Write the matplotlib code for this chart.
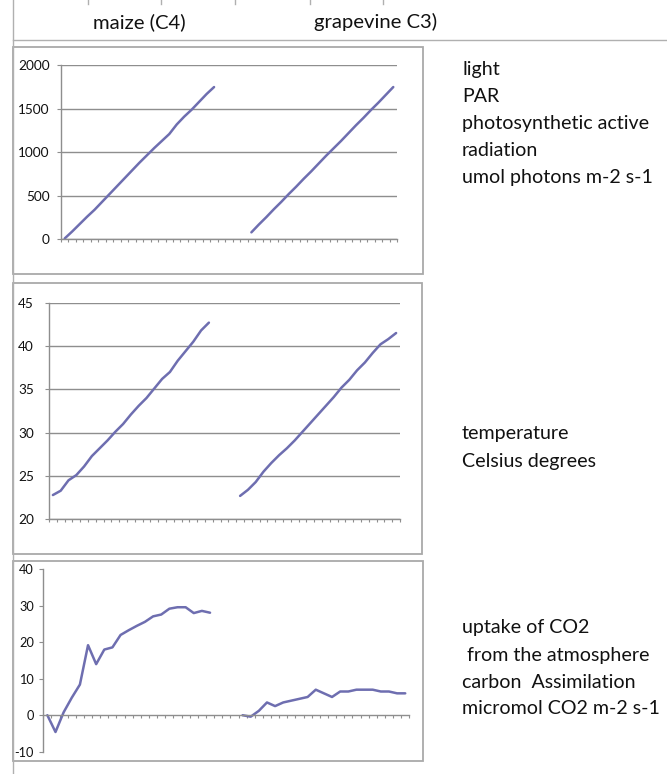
import numpy as np
import matplotlib
matplotlib.use("Agg")
import matplotlib.pyplot as plt
from matplotlib.patches import Rectangle
from matplotlib.lines import Line2D

# ---------------- data ----------------
n_cat = 45
maize_par_idx0 = 0
grape_par_idx0 = 25
maize_par = [10, 90, 175, 260, 340, 430, 520, 610, 700, 790, 880, 965, 1050,
             1130, 1210, 1320, 1410, 1490, 1580, 1670, 1750]
grape_par = [80, 170, 255, 345, 430, 520, 605, 695, 780, 870, 960, 1045, 1130,
             1220, 1310, 1395, 1485, 1570, 1660, 1750]

maize_temp_idx0 = 0
grape_temp_idx0 = 24
maize_temp = [22.8, 23.3, 24.5, 25.1, 26.1, 27.3, 28.2, 29.1, 30.1, 31.0, 32.1,
              33.1, 34.0, 35.1, 36.2, 37.0, 38.3, 39.4, 40.5, 41.8, 42.7]
grape_temp = [22.7, 23.4, 24.3, 25.5, 26.5, 27.4, 28.2, 29.1, 30.1, 31.1, 32.1,
              33.1, 34.1, 35.2, 36.1, 37.2, 38.1, 39.2, 40.2, 40.8, 41.5]

maize_co2_idx0 = 0
grape_co2_idx0 = 24
maize_co2 = [0, -4.6, 0.8, 4.8, 8.4, 19.2, 14.0, 18.0, 18.6, 22.0, 23.3, 24.5,
             25.6, 27.1, 27.6, 29.2, 29.6, 29.6, 28.0, 28.6, 28.1]
grape_co2 = [0, -0.4, 1.2, 3.5, 2.5, 3.5, 4.0, 4.5, 5.0, 7.0, 6.0, 5.0, 6.5,
             6.5, 7.0, 7.0, 7.0, 6.5, 6.5, 6.0, 6.0]

col_headers = ["maize (C4)", "grapevine C3)"]
par_ticks = [0, 500, 1000, 1500, 2000]
temp_ticks = [20, 25, 30, 35, 40, 45]
co2_ticks = [-10, 0, 10, 20, 30, 40]
label_par = ["light", "PAR", "photosynthetic active", "radiation",
             "umol photons m-2 s-1"]
label_temp = ["temperature", "Celsius degrees"]
label_co2 = ["uptake of CO2", " from the atmosphere", "carbon  Assimilation",
             "micromol CO2 m-2 s-1"]

# ---------------- style ----------------
W, H = 667, 774
plt.rcParams['font.family'] = ['Lato', 'DejaVu Sans']
LINE = '#6e6eb0'
GRID = '#8e8e8e'
BOX = '#a9a9a9'
TXT = '#111111'
BIG = 14.6
SIDE = 14.1

fig = plt.figure(figsize=(W / 100, H / 100), dpi=100)
fig.patch.set_facecolor('white')


def rect(l, t, r, b):
    return [l / W, 1 - b / H, (r - l) / W, (b - t) / H]


def fline(x0, y0, x1, y1, **kw):
    fig.add_artist(Line2D([x0 / W, x1 / W], [1 - y0 / H, 1 - y1 / H],
                          transform=fig.transFigure, **kw))


def fbox(l, t, r, b):
    fig.add_artist(Rectangle((l / W, 1 - b / H), (r - l) / W, (b - t) / H,
                             transform=fig.transFigure, fill=False,
                             ec=BOX, lw=1.3))


# spreadsheet frame
fline(12.5, 0, 12.5, H, color='#b0b0b0', lw=1.0)
fline(12.5, 40, W, 40, color='#b0b0b0', lw=1.0)
for xx in [88, 161, 235, 310, 383]:
    fline(xx, 0, xx, 4, color='#b0b0b0', lw=1.0)

fig.text(139 / W, 1 - 22 / H, col_headers[0], ha='center', va='center',
         fontsize=BIG, color=TXT)
fig.text(376 / W, 1 - 22 / H, col_headers[1], ha='center', va='center',
         fontsize=BIG, color=TXT)

fbox(13.3, 46.7, 422.7, 274)
fbox(13.3, 282.7, 421.7, 554)
fbox(13.3, 560.7, 423, 761)


def plot_series(ax, idx0, vals):
    x = np.arange(idx0, idx0 + len(vals))
    ax.plot(x, vals, color=LINE, lw=1.8, solid_capstyle='round',
            solid_joinstyle='round')


def style_ax(ax, yticks, ylim, pad, grid=True, zero_axis=False, lsize=9.8):
    ax.set_xlim(-0.5, n_cat - 0.5)
    ax.set_ylim(*ylim)
    ax.set_xticks(np.arange(-0.5, n_cat, 1.0))
    ax.set_xticklabels([])
    ax.set_yticks(yticks)
    ax.set_yticklabels([str(t) for t in yticks])
    for s in ['top', 'right']:
        ax.spines[s].set_visible(False)
    for s in ['left', 'bottom']:
        ax.spines[s].set_color(GRID)
        ax.spines[s].set_linewidth(1.0)
    if zero_axis:
        ax.spines['bottom'].set_position(('data', 0))
    ax.tick_params(axis='x', direction='out', length=2.5, width=0.8,
                   color=GRID)
    ax.tick_params(axis='y', direction='out', length=3, width=0.8,
                   color=GRID, labelsize=lsize, labelcolor=TXT, pad=pad)
    if grid:
        ax.yaxis.grid(True, color=GRID, lw=1.0)
        ax.set_axisbelow(True)
    ax.patch.set_alpha(0)


ax1 = fig.add_axes(rect(61, 65.3, 397, 239.3))
plot_series(ax1, maize_par_idx0, maize_par)
plot_series(ax1, grape_par_idx0, grape_par)
style_ax(ax1, par_ticks, (0, 2000), pad=5)

ax2 = fig.add_axes(rect(49, 302.7, 400, 519.3))
plot_series(ax2, maize_temp_idx0, maize_temp)
plot_series(ax2, grape_temp_idx0, grape_temp)
style_ax(ax2, temp_ticks, (20, 45), pad=8)

ax3 = fig.add_axes(rect(43.3, 569.3, 409.3, 751.7))
plot_series(ax3, maize_co2_idx0, maize_co2)
plot_series(ax3, grape_co2_idx0, grape_co2)
style_ax(ax3, co2_ticks, (-10, 40), pad=3.8, grid=False, zero_axis=True,
         lsize=9.2)

# right-hand descriptions
def block(lines, y0):
    for i, s in enumerate(lines):
        fig.text(462 / W, 1 - (y0 + 27 * i) / H, s, ha='left', va='center',
                 fontsize=SIDE, color=TXT)


block(label_par, 70)
block(label_temp, 434)
block(label_co2, 628)

fig.savefig('out.png', dpi=100, facecolor='white')
